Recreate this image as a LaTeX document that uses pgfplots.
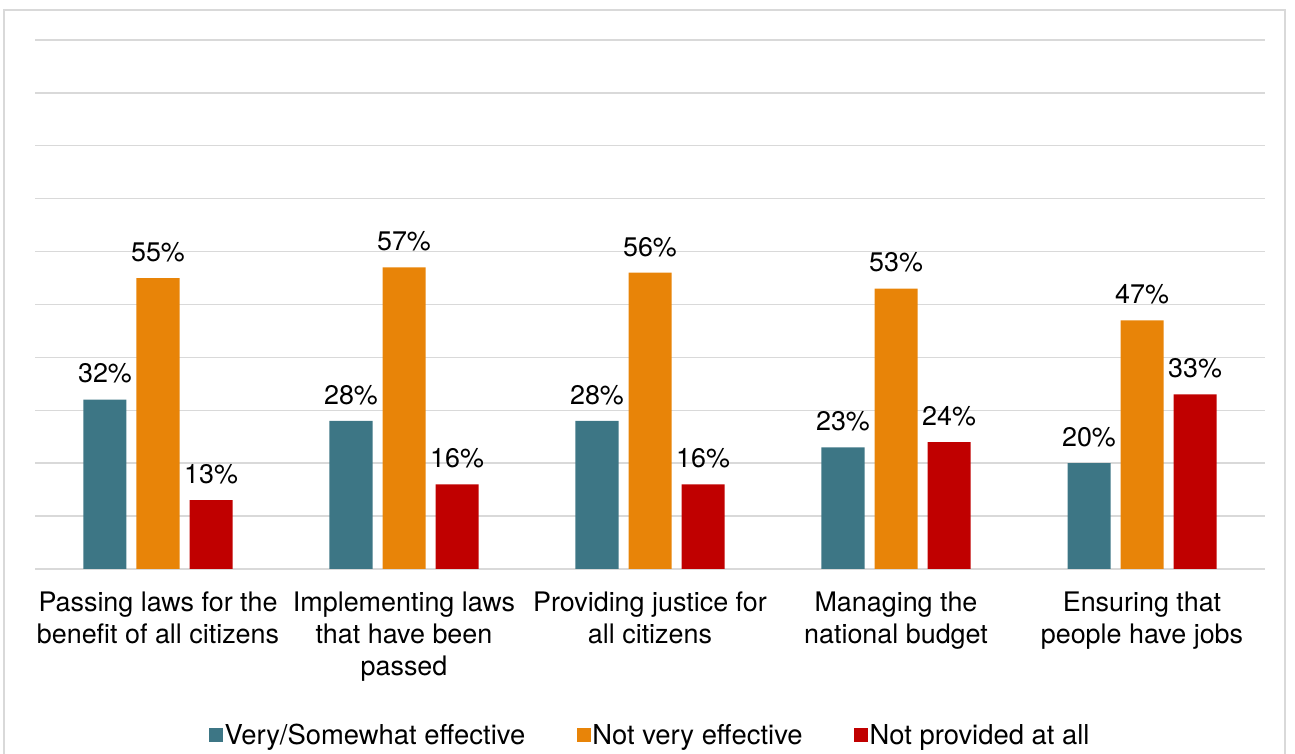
\documentclass[border=0pt]{standalone}
\usepackage{fontspec}
\setmainfont{TeX Gyre Heros}
\usepackage{pgfplots}
\pgfplotsset{compat=1.18}
\definecolor{gridgray}{RGB}{217,217,217}
\definecolor{cteal}{RGB}{61,118,133}
\definecolor{corange}{RGB}{232,132,8}
\definecolor{cred}{RGB}{192,0,0}
\begin{document}
\begin{tikzpicture}[x=1bp,y=1bp]
\useasboundingbox (0,0) rectangle (1295,754);
\draw[gridgray, line width=2bp] (4,-20) rectangle (1285,744);
\begin{axis}[
  at={(35bp,185bp)}, anchor=south west,
  scale only axis, width=1230bp, height=529bp,
  ybar=10bp, bar width=43bp,
  xmin=-0.5, xmax=4.5, ymin=0, ymax=100,
  xtick={0,1,2,3,4},
  xticklabels={{Passing laws for the\\benefit of all citizens},{Implementing laws\\that have been\\passed},{Providing justice for\\all citizens},{Managing the\\national budget},{Ensuring that\\people have jobs}},
  xticklabel style={font=\fontsize{27}{32}\selectfont, align=center, anchor=north, inner sep=0pt, yshift=-23bp},
  ytick={0,10,...,100}, yticklabels={},
  ymajorgrids, major grid style={gridgray, line width=1.4bp},
  major tick length=0pt,
  axis line style={draw=none},
  /pgf/number format/assume math mode=true,
  nodes near coords={\pgfmathprintnumber{\pgfplotspointmeta}\%},
  nodes near coords style={font=\fontsize{27}{32}\selectfont, anchor=south, inner sep=0pt, yshift=16bp, text=black},
  legend columns=3,
  legend style={at={(0.5,-0.3138)}, anchor=center, draw=none, fill=none,
    font=\fontsize{27.5}{32}\selectfont,
    nodes={inner xsep=1.5bp, inner ysep=0pt},
    /tikz/every even column/.append style={column sep=50bp}},
  legend image code/.code={\fill[#1,draw=none] (0bp,-7bp) rectangle (14bp,7bp);},
  clip=false,
]
\addplot[fill=cteal, draw=none] coordinates {(0,32) (1,28) (2,28) (3,23) (4,20)};
\addplot[fill=corange, draw=none] coordinates {(0,55) (1,57) (2,56) (3,53) (4,47)};
\addplot[fill=cred, draw=none] coordinates {(0,13) (1,16) (2,16) (3,24) (4,33)};
\legend{Very/Somewhat effective, Not very effective, Not provided at all}
\end{axis}
\end{tikzpicture}
\end{document}
